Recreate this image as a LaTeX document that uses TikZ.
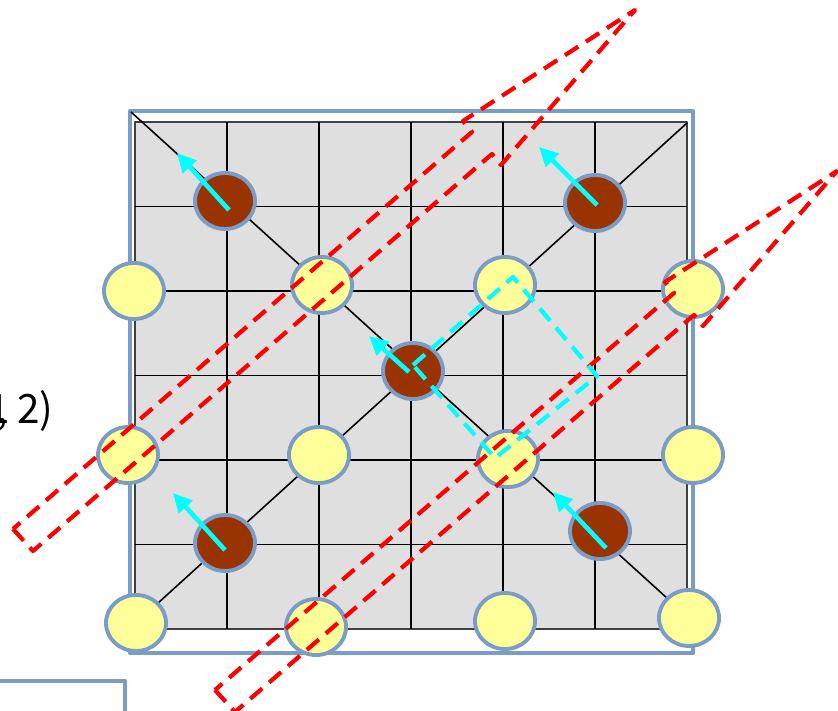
\documentclass[tikz,border=0pt]{standalone}
\usepackage{fontspec}
\newfontfamily\jpfont{Noto Sans CJK JP}
\usetikzlibrary{arrows.meta,shapes.geometric}

\definecolor{frameblue}{RGB}{122,157,199}
\definecolor{boardgray}{RGB}{223,223,223}
\definecolor{stonebrown}{RGB}{153,51,0}
\definecolor{stoneyellow}{RGB}{255,255,153}
\definecolor{movecyan}{RGB}{0,255,255}
\definecolor{rayred}{RGB}{255,0,0}

\begin{document}
\begin{tikzpicture}[
    x=1cm,
    y=-1cm,
    line join=round,
    frame/.style={
        draw=frameblue,
        line width=1.3pt
    },
    gridline/.style={
        black,
        line width=0.45pt
    },
    stone/.style={
        ellipse,
        draw=frameblue,
        line width=1.1pt,
        minimum width=0.60cm,
        minimum height=0.56cm,
        inner sep=0pt
    },
    brownstone/.style={stone, fill=stonebrown},
    yellowstone/.style={stone, fill=stoneyellow},
    redray/.style={
        draw=rayred,
        line width=1.2pt,
        dash pattern=on 4.5pt off 2.6pt
    },
    cyanbox/.style={
        draw=movecyan,
        line width=1.2pt,
        dash pattern=on 4.5pt off 2.6pt
    },
    movearrow/.style={
        draw=movecyan,
        line width=1.3pt,
        -{Triangle[length=0.19cm,width=0.18cm]}
    }
]

\useasboundingbox (0,0) rectangle (8.38,7.11);

% -------------------------------------------------
% Board: frame, grey field, grid, diagonals
% -------------------------------------------------

\draw[frame] (1.30,1.11) rectangle (6.93,6.53);
\filldraw[fill=boardgray, draw=black!75, line width=0.6pt]
    (1.35,1.22) rectangle (6.87,6.29);

\foreach \x in {2.27,3.19,4.11,5.03,5.95}
    \draw[gridline] (\x,1.22) -- (\x,6.29);
\foreach \y in {2.065,2.91,3.755,4.60,5.445}
    \draw[gridline] (1.35,\y) -- (6.87,\y);

\draw[gridline] (1.31,1.12) -- (6.89,6.18);
\draw[gridline] (6.87,1.23) -- (1.36,6.23);

% -------------------------------------------------
% Stones
% -------------------------------------------------

\node[brownstone] (b1) at (2.25,2.01) {};
\node[brownstone] (b2) at (5.95,2.03) {};
\node[brownstone] (b3) at (4.13,3.71) {};
\node[brownstone] (b4) at (2.25,5.43) {};
\node[brownstone] (b5) at (6.00,5.31) {};

\node[yellowstone] (y1) at (1.34,2.91) {};
\node[yellowstone] (y2) at (3.22,2.85) {};
\node[yellowstone] (y3) at (5.05,2.85) {};
\node[yellowstone] (y4) at (6.93,2.89) {};
\node[yellowstone] (y5) at (1.28,4.55) {};
\node[yellowstone] (y6) at (3.19,4.55) {};
\node[yellowstone] (y7) at (5.08,4.59) {};
\node[yellowstone] (y8) at (6.93,4.55) {};
\node[yellowstone] (y9) at (1.36,6.23) {};
\node[yellowstone] (y10) at (3.16,6.27) {};
\node[yellowstone] (y11) at (5.05,6.21) {};
\node[yellowstone] (y12) at (6.89,6.18) {};

% -------------------------------------------------
% Red dashed rays
% -------------------------------------------------

\path[redray]
    (0.13,5.29) -- (0.33,5.51) -- (4.92,1.54) -- (5.01,1.65)
    -- (6.35,0.10) -- (4.63,1.21) -- (4.72,1.32) -- cycle;

\path[redray]
    (2.15,6.90) -- (2.35,7.12) -- (6.94,3.15) -- (7.03,3.26)
    -- (8.37,1.71) -- (6.65,2.82) -- (6.74,2.93) -- cycle;

% -------------------------------------------------
% Cyan dashed box
% -------------------------------------------------

\path[cyanbox]
    (4.13,3.65) -- (5.13,2.77) -- (5.97,3.76) -- (4.95,4.58) -- cycle;

% -------------------------------------------------
% Moves
% -------------------------------------------------

\coordinate (m1) at (2.29,2.10);
\coordinate (m2) at (5.97,2.05);
\coordinate (m3) at (4.09,3.72);
\coordinate (m4) at (2.25,5.50);
\coordinate (m5) at (6.06,5.48);

\coordinate (t1) at (1.77,1.53);
\coordinate (t2) at (5.39,1.47);
\coordinate (t3) at (3.69,3.36);
\coordinate (t4) at (1.73,4.93);
\coordinate (t5) at (5.53,4.92);

\foreach \i in {1,...,5}
    \draw[movearrow] (m\i) -- (t\i);

% -------------------------------------------------
% Labels
% -------------------------------------------------

\node[anchor=east, font=\jpfont\fontsize{11.5pt}{13pt}\selectfont, inner sep=0pt]
    (pos) at (0.54,4.11) {(1\kern-3.6pt, 2)};

\draw[frame] (-0.50,6.81) rectangle (1.25,7.80);

\end{tikzpicture}
\end{document}
